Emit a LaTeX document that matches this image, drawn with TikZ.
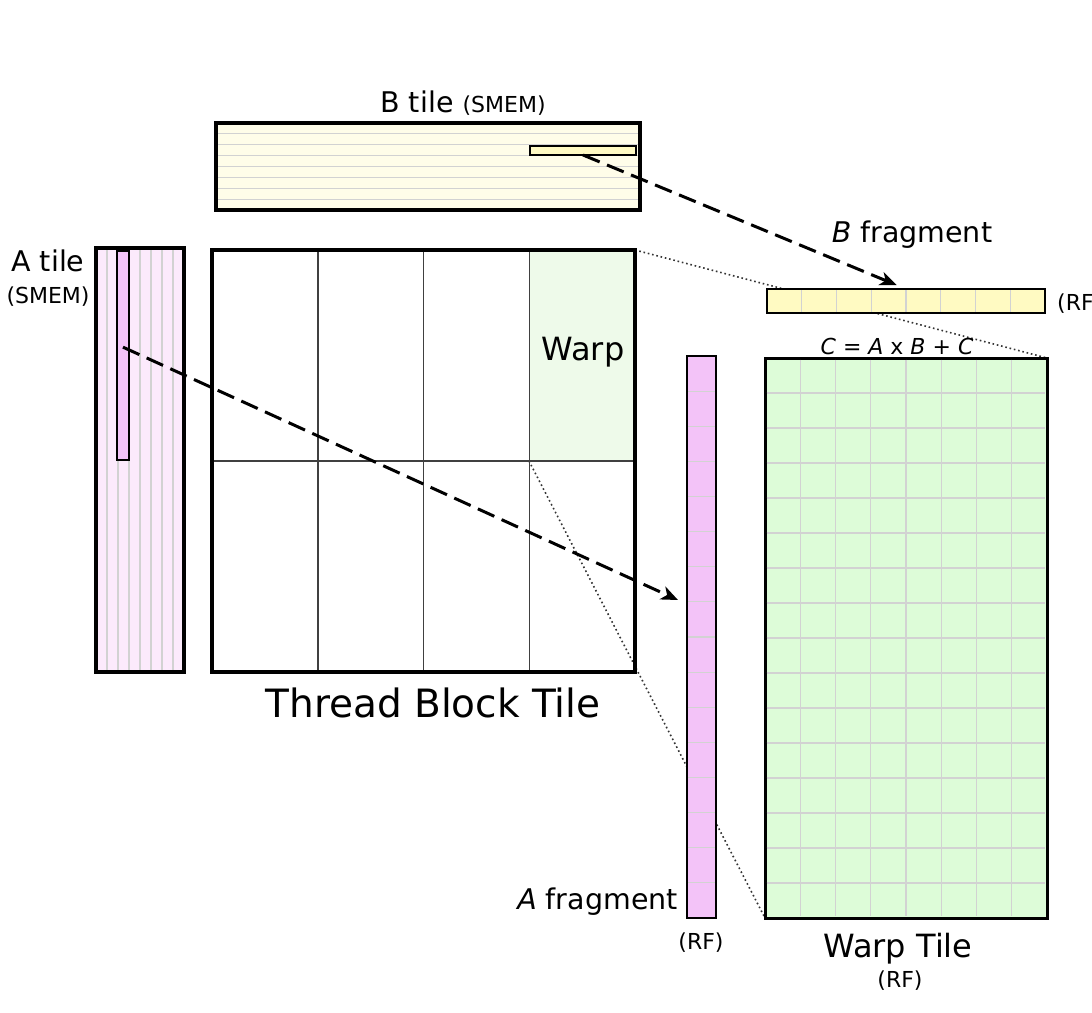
\documentclass[tikz,border=0pt]{standalone}
\usepackage{fontspec}
\setmainfont{DejaVu Sans}
\usetikzlibrary{calc,arrows.meta}

\definecolor{btilefill}{HTML}{FFFDE9}
\definecolor{bfragfill}{HTML}{FFFAC2}
\definecolor{atilefill}{HTML}{FCEAFC}
\definecolor{afragfill}{HTML}{F3C3F8}
\definecolor{warpfill}{HTML}{EEFAEA}
\definecolor{wtilefill}{HTML}{DDFCD8}
\definecolor{cellgray}{HTML}{D2D2D2}

\newcommand{\lblfont}{\fontsize{28.5}{34}\selectfont}
\newcommand{\subfont}{\fontsize{22}{26}\selectfont}
\newcommand{\midfont}{\fontsize{32}{38}\selectfont}
\newcommand{\bigfont}{\fontsize{39}{46}\selectfont}

\pgfdeclarelayer{background}
\pgfsetlayers{background,main}

\begin{document}
\begin{tikzpicture}[
  x=1pt, y=-1pt,
  tilebox/.style={rectangle, inner sep=0pt, outer sep=0pt, draw=black, line width=4.5pt},
  fragbox/.style={rectangle, inner sep=0pt, outer sep=0pt, draw=black, line width=1.8pt},
  cellline/.style={draw=cellgray, line width=1.2pt, shorten <=#1, shorten >=#1},
  cellline/.default=1pt,
  blockline/.style={draw=black!75, line width=1.5pt, shorten <=2.2pt, shorten >=2.2pt},
  zoomline/.style={draw=black!80, line width=1.6pt, dash pattern=on 1.6pt off 2.8pt},
  fetch/.style={line width=3pt, dash pattern=on 18pt off 8pt, -{Stealth[length=17pt, width=14pt, inset=5pt]}},
  lbl/.style={inner sep=0pt, font=\lblfont}
]

\useasboundingbox (0,0) rectangle (1092,1012);

\node (btile) [tilebox, fill=btilefill, minimum width=424pt, minimum height=87pt] at (428,166.5) {};
\foreach \i in {1,...,7}
  \draw[cellline=2.3pt] ($(btile.north west)!\i/8!(btile.south west)$) -- ($(btile.north east)!\i/8!(btile.south east)$);
\node (bbar) [fragbox, line width=1.5pt, fill=bfragfill, minimum width=106pt, minimum height=9pt] at (583,150.5) {};
\node (btilelbl) [lbl, anchor=base] at (463,112) {B tile {\subfont (SMEM)}};

\node (atile) [tilebox, fill=atilefill, minimum width=88pt, minimum height=424pt] at (140,460) {};
\foreach \i in {1,...,7}
  \draw[cellline=2.3pt] ($(atile.north west)!\i/8!(atile.north east)$) -- ($(atile.south west)!\i/8!(atile.south east)$);
\node (abar) [fragbox, line width=1.5pt, fill=afragfill, minimum width=12pt, minimum height=209pt] at (123,355.5) {};
\node (atilelbl) [lbl, anchor=base] at (48,271) {A tile};
\node (atilemem) [lbl, font=\subfont, anchor=base] at (48,303) {(SMEM)};

\node (warp) [rectangle, inner sep=0pt, outer sep=0pt, fill=warpfill, minimum width=106pt, minimum height=211pt] at (582,355.5) {};
\node (tbt) [tilebox, minimum width=423pt, minimum height=422pt] at (423.5,461) {};
\foreach \i in {1,2,3}
  \draw[blockline] ($(tbt.north west)!\i/4!(tbt.north east)$) -- ($(tbt.south west)!\i/4!(tbt.south east)$);
\draw[blockline] (tbt.west) -- (tbt.east);
\node (warplbl) [inner sep=0pt, font=\midfont, anchor=base] at (583,360) {Warp};
\node (tbtlbl) [inner sep=0pt, font=\bigfont, anchor=base] at (433,717) {Thread Block Tile};

\node (bfrag) [fragbox, fill=bfragfill, minimum width=278pt, minimum height=24pt] at (906,301) {};
\foreach \i in {1,...,7}
  \draw[cellline] ($(bfrag.north west)!\i/8!(bfrag.north east)$) -- ($(bfrag.south west)!\i/8!(bfrag.south east)$);
\node (bfraglbl) [lbl, anchor=base] at (912,242) {\textit{B} fragment};
\node (bfragrf) [lbl, font=\subfont, anchor=base west] at (1057,310) {(RF)};

\node (wtile) [rectangle, inner sep=0pt, outer sep=0pt, draw=black, line width=3pt, fill=wtilefill, minimum width=282pt, minimum height=560pt] at (906,638) {};
\foreach \i in {1,...,7}
  \draw[cellline=1.6pt] ($(wtile.north west)!\i/8!(wtile.north east)$) -- ($(wtile.south west)!\i/8!(wtile.south east)$);
\foreach \i in {1,...,15}
  \draw[cellline=1.6pt] ($(wtile.north west)!\i/16!(wtile.south west)$) -- ($(wtile.north east)!\i/16!(wtile.south east)$);
\node (eqlbl) [lbl, font=\subfont, anchor=base] at (897,354) {\textit{C} = \textit{A} x \textit{B} + \textit{C}};
\node (wtilelbl) [inner sep=0pt, font=\midfont, anchor=base] at (898,957) {Warp Tile};
\node (wtilerf) [lbl, font=\subfont, anchor=base] at (900,987) {(RF)};

\node (afrag) [fragbox, fill=afragfill, minimum width=29pt, minimum height=562pt] at (701.5,637) {};
\foreach \i in {1,...,15}
  \draw[cellline] ($(afrag.north west)!\i/16!(afrag.south west)$) -- ($(afrag.north east)!\i/16!(afrag.south east)$);
\node (afraglbl) [lbl, anchor=base east] at (678,909) {\textit{A} fragment};
\node (afragrf) [lbl, font=\subfont, anchor=base] at (701,949) {(RF)};

\begin{pgfonlayer}{background}
\draw[zoomline] (warp.north east) -- (wtile.north east);
\draw[zoomline] (warp.south west) -- (wtile.south west);
\end{pgfonlayer}

\coordinate (astart) at ($(abar.north)!0.46!(abar.south)$);
\coordinate (aend) at ($(afrag.west)+(-9,-37)$);
\draw[fetch] (astart) -- (aend);
\draw[fetch, shorten >=10pt] (bbar.south) -- (bfrag.north);

\end{tikzpicture}
\end{document}
